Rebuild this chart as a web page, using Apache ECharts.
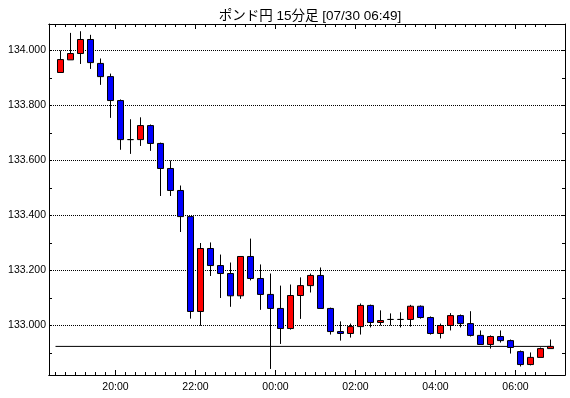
<!DOCTYPE html>
<html><head><meta charset="utf-8">
<script src="https://cdn.jsdelivr.net/npm/echarts@6/dist/echarts.min.js"></script>
<style>html,body{margin:0;padding:0;background:#fff}#c{width:570px;height:398px}</style>
</head><body><div id="c"></div>
<script>
const chartTitle = 'ポンド円 15分足 [07/30 06:49]';
const times = ['18:30','18:45','19:00','19:15','19:30','19:45','20:00','20:15','20:30','20:45',
  '21:00','21:15','21:30','21:45','22:00','22:15','22:30','22:45','23:00','23:15',
  '23:30','23:45','00:00','00:15','00:30','00:45','01:00','01:15','01:30','01:45',
  '02:00','02:15','02:30','02:45','03:00','03:15','03:30','03:45','04:00','04:15',
  '04:30','04:45','05:00','05:15','05:30','05:45','06:00','06:15','06:30','06:45'];
const opens = [133.920,133.966,133.989,134.040,133.953,133.905,133.818,133.676,133.676,133.727,
  133.662,133.571,133.491,133.396,133.051,133.280,133.218,133.189,133.108,133.251,
  133.171,133.113,133.062,132.989,133.109,133.145,133.182,133.062,132.978,132.971,
  132.996,133.073,133.011,133.022,133.022,133.022,133.070,133.029,132.971,133.000,
  133.036,133.007,132.964,132.931,132.960,132.945,132.905,132.858,132.884,132.916];
const closes = [133.967,133.989,134.040,133.956,133.905,133.818,133.676,133.676,133.727,133.662,
  133.571,133.491,133.396,133.051,133.280,133.218,133.189,133.108,133.251,133.171,
  133.113,133.062,132.989,133.109,133.145,133.182,133.062,132.978,132.971,132.996,
  133.073,133.011,133.018,133.022,133.022,133.070,133.029,132.971,133.000,133.036,
  133.007,132.964,132.931,132.960,132.945,132.920,132.858,132.884,132.916,132.924];
const lows = [133.920,133.966,133.951,133.933,133.875,133.755,133.639,133.624,133.653,133.635,
  133.471,133.471,133.340,133.025,132.999,133.180,133.100,133.068,133.097,133.164,
  133.057,132.842,132.933,132.985,133.024,133.120,133.062,132.967,132.945,132.956,
  132.967,132.993,133.000,133.000,132.993,132.996,133.025,132.967,132.953,132.982,
  132.993,132.960,132.931,132.916,132.938,132.898,132.851,132.855,132.884,132.916];
const highs = [134.000,134.064,134.070,134.057,133.971,133.916,133.822,133.750,133.757,133.731,
  133.665,133.600,133.509,133.396,133.300,133.302,133.258,133.229,133.251,133.316,
  133.222,133.189,133.145,133.149,133.175,133.189,133.211,133.065,133.015,133.007,
  133.080,133.076,133.055,133.044,133.048,133.075,133.073,133.033,133.007,133.045,
  133.040,133.052,132.982,132.964,132.982,132.949,132.909,132.902,132.920,132.949];
const yLabels = [133.0, 133.2, 133.4, 133.6, 133.8, 134.0];
const yTicks = [132.9, 133.0, 133.1, 133.2, 133.3, 133.4, 133.5, 133.6, 133.7, 133.8, 133.9, 134.0];
const xLabels = ['20:00','22:00','00:00','02:00','04:00','06:00'];

const X_MIN = -1.15, X_MAX = 50.45;
const Y_MAX = 134.09636, Y_MIN = 134.09636 - 351/275;
const minorX = times.map((t, i) => i - 0.5);
const majorX = xLabels.map(l => times.indexOf(l) - 0.5);
const lastPrice = closes[closes.length - 1];
const FONT = '"Liberation Sans", Arial, sans-serif';

function xAxisDef(pos, vals, len, labels) {
  return {
    type: 'value', min: X_MIN, max: X_MAX, position: pos,
    axisLine: { show: true, onZero: false, lineStyle: { color: '#000', width: 1 } },
    axisTick: { show: true, inside: true, length: len, customValues: vals, lineStyle: { color: '#000', width: 1 } },
    axisLabel: labels ? { show: true, customValues: vals, margin: 7, color: '#000', fontSize: 10.5, fontFamily: FONT,
      formatter: v => times[Math.round(v + 0.5)] } : { show: false },
    splitLine: { show: false }
  };
}
function yAxisDef(pos, labels) {
  return {
    type: 'value', min: Y_MIN, max: Y_MAX, position: pos, scale: true,
    axisLine: { show: true, onZero: false, lineStyle: { color: '#000', width: 1 } },
    axisTick: { show: true, inside: true, length: 3, customValues: yTicks, lineStyle: { color: '#000', width: 1 } },
    axisLabel: labels ? { show: true, customValues: yLabels, margin: 3, color: '#000', fontSize: 10.5, fontFamily: FONT,
      formatter: v => v.toFixed(3) } : { show: false },
    splitLine: { show: false }
  };
}

const gridSeries = yLabels.map(v => ({
  type: 'line', xAxisIndex: 0, yAxisIndex: 0, z: 1, silent: true, symbol: 'none',
  data: [[X_MIN, v], [X_MAX, v]],
  lineStyle: { color: '#000', width: 1, type: [1, 1] }
}));

const chart = echarts.init(document.getElementById('c'), null, { renderer: 'canvas' });
chart.setOption({
  animation: false,
  backgroundColor: '#fff',
  title: { text: chartTitle, left: 305, top: 5, textAlign: 'center',
    textStyle: { fontSize: 13.5, fontWeight: 'normal', color: '#000', fontFamily: '"Liberation Sans", "Noto Sans CJK JP", sans-serif' } },
  grid: { left: 49, top: 24, width: 516, height: 351, containLabel: false },
  xAxis: [
    xAxisDef('bottom', minorX, 3, false),
    xAxisDef('bottom', majorX, 5, true),
    xAxisDef('top', minorX, 3, false),
    xAxisDef('top', majorX, 5, false)
  ],
  yAxis: [yAxisDef('left', true), yAxisDef('right', false)],
  series: gridSeries.concat([
    {
      type: 'line', xAxisIndex: 0, yAxisIndex: 0, z: 1, silent: true, symbol: 'none',
      data: [[-0.5, lastPrice], [times.length - 1, lastPrice]],
      lineStyle: { color: '#000', width: 1 }
    },
    {
      type: 'candlestick', xAxisIndex: 0, yAxisIndex: 0, z: 3,
      barWidth: 6,
      data: times.map((t, i) => [i, opens[i], closes[i], lows[i], highs[i]]),
      itemStyle: { color: '#ff0000', color0: '#0000ff', borderColor: '#000', borderColor0: '#000', borderColorDoji: '#000', borderWidth: 1 }
    }
  ])
});
</script></body></html>
